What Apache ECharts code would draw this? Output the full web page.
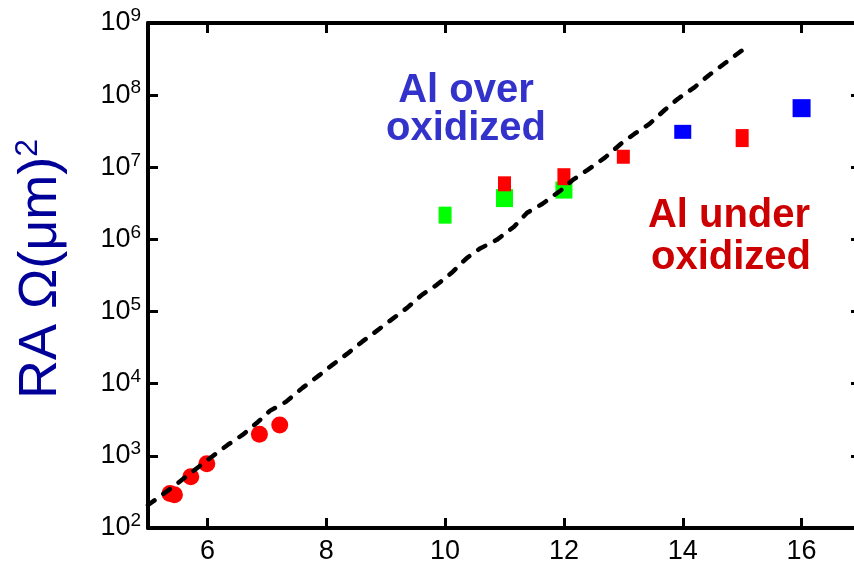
<!DOCTYPE html>
<html><head><meta charset="utf-8">
<script src="https://cdn.jsdelivr.net/npm/echarts@6/dist/echarts.min.js"></script>
<style>html,body{margin:0;padding:0;background:#fff}#c{width:854px;height:568px}</style>
</head><body><div id="c"></div>
<script>
// ---- data ----
const xTicks = [6, 8, 10, 12, 14, 16];
const circleX = [5.37, 5.445, 5.72, 5.99, 6.875, 7.217];
const circleY = [300, 290, 514, 777, 1995, 2685];
const greenX = [10, 11, 12];
const greenY = [2.17e6, 3.74e6, 4.83e6];
const redSqX = [11, 12, 13, 15];
const redSqY = [5.9e6, 7.4e6, 1.4e7, 2.54e7];
const blueX = [14, 16];
const blueY = [3.1e7, 6.6e7];
const fitX = [5.00, 5.42, 5.72, 6.07, 6.34, 6.59, 6.85, 7.05, 7.32, 7.60, 7.89, 8.08, 8.35, 8.60, 8.85, 9.07, 9.36, 9.61, 9.86, 10.11, 10.37, 10.58, 10.87, 11.16, 11.38, 11.64, 11.96, 12.15, 12.40, 12.69, 12.96, 13.19, 13.44, 13.70, 13.92, 14.19, 14.45, 14.72, 14.99];
const fitY = [208, 371, 580, 966, 1416, 1950, 2950, 4200, 5600, 8750, 13250, 17650, 25900, 38000, 54000, 74300, 112500, 170500, 234600, 344000, 556000, 741000, 987000, 1.5e6, 2.34e6, 3.12e6, 4.88e6, 6.7e6, 9.2e6, 1.36e7, 2.12e7, 2.92e7, 4.0e7, 6.27e7, 8.9e7, 1.27e8, 1.92e8, 2.81e8, 4.13e8];
const yTitle = 'RA Ω(μm)';
const yTitleSup = '2';
const overText = ['Al over', 'oxidized'];
const underText = ['Al under', 'oxidized'];

// ---- styles (marker sizes) ----
const greenSizes = [[13, 17], [17, 18], [17, 17]];
const redSqSizes = [[13, 15], [13, 17], [13, 14], [13, 18]];
const blueSizes = [[17, 14], [18, 18]];

const zip = (xs, ys) => xs.map((x, i) => [x, ys[i]]);
const FONT = 'Liberation Sans, Arial, sans-serif';

const axisLineStyle = { color: '#000', width: 4 };
const tickStyle = { color: '#000', width: 3 };

const xAxisBase = {
  type: 'value', min: 5, max: 17,
  axisLine: { show: true, onZero: false, lineStyle: axisLineStyle },
  axisTick: { show: true, inside: true, length: 10, lineStyle: tickStyle, customValues: xTicks },
  splitLine: { show: false }
};
const yAxisBase = {
  type: 'log', logBase: 10, min: 100, max: 1e9, splitNumber: 7,
  axisLine: { show: true, onZero: false, lineStyle: axisLineStyle },
  axisTick: { show: true, inside: true, length: 10, lineStyle: tickStyle },
  minorTick: { show: false },
  splitLine: { show: false }
};

const chart = echarts.init(document.getElementById('c'), null, { renderer: 'canvas' });
chart.setOption({
  animation: false,
  backgroundColor: '#fff',
  grid: { left: 148, top: 23, width: 713, height: 505, containLabel: false, outerBoundsMode: 'none' },
  xAxis: [
    Object.assign({}, xAxisBase, {
      position: 'bottom',
      axisLabel: { show: true, customValues: xTicks, margin: 10, color: '#000', fontSize: 27, fontFamily: FONT }
    }),
    Object.assign({}, xAxisBase, { position: 'top', axisLabel: { show: false } })
  ],
  yAxis: [
    Object.assign({}, yAxisBase, {
      position: 'left',
      axisLabel: {
        show: true, margin: 7, color: '#000',
        formatter: v => '{b|10}{s|' + Math.round(Math.log10(v)) + '}',
        rich: {
          b: { fontSize: 27, fontFamily: FONT, color: '#000' },
          s: { fontSize: 19, fontFamily: FONT, color: '#000', padding: [0, 0, 14, 0] }
        }
      }
    }),
    Object.assign({}, yAxisBase, { position: 'right', axisLabel: { show: false } })
  ],
  graphic: [
    { type: 'text', x: 41, y: 269, rotation: Math.PI / 2,
      style: { text: '{a|' + yTitle + '}{s|' + yTitleSup + '}', align: 'center', verticalAlign: 'middle',
        rich: {
          a: { fontSize: 54, fontFamily: FONT, fill: '#000099', color: '#000099' },
          s: { fontSize: 32, fontFamily: FONT, fill: '#000099', color: '#000099', padding: [0, 0, 26, 0] }
        } } },
    { type: 'text', x: 466, y: 91, style: { text: overText[0], font: 'bold 40px ' + FONT, fill: '#3333cc', align: 'center', verticalAlign: 'middle' } },
    { type: 'text', x: 466, y: 129, style: { text: overText[1], font: 'bold 40px ' + FONT, fill: '#3333cc', align: 'center', verticalAlign: 'middle' } },
    { type: 'text', x: 729, y: 216, style: { text: underText[0], font: 'bold 40px ' + FONT, fill: '#cc0000', align: 'center', verticalAlign: 'middle' } },
    { type: 'text', x: 731, y: 258, style: { text: underText[1], font: 'bold 40px ' + FONT, fill: '#cc0000', align: 'center', verticalAlign: 'middle' } }
  ],
  series: [
    { type: 'scatter', xAxisIndex: 0, yAxisIndex: 0, data: zip(circleX, circleY), symbol: 'circle', symbolSize: 17,
      itemStyle: { color: '#ff0000', opacity: 1 }, z: 2 },
    { type: 'scatter', xAxisIndex: 0, yAxisIndex: 0, data: zip(greenX, greenY), symbol: 'rect',
      symbolSize: (v, p) => greenSizes[p.dataIndex], itemStyle: { color: '#00ff00', opacity: 1 }, z: 2 },
    { type: 'scatter', xAxisIndex: 0, yAxisIndex: 0, data: zip(redSqX, redSqY), symbol: 'rect',
      symbolSize: (v, p) => redSqSizes[p.dataIndex], itemStyle: { color: '#ff0000', opacity: 1 }, z: 3 },
    { type: 'scatter', xAxisIndex: 0, yAxisIndex: 0, data: zip(blueX, blueY), symbol: 'rect',
      symbolSize: (v, p) => blueSizes[p.dataIndex], itemStyle: { color: '#0000ff', opacity: 1 }, z: 3 },
    { type: 'line', xAxisIndex: 0, yAxisIndex: 0, data: zip(fitX, fitY), symbol: 'none', showSymbol: false,
      lineStyle: { color: '#000', width: 4.5, type: [8, 11], cap: 'round', join: 'round' }, z: 5 }
  ]
});
</script></body></html>
